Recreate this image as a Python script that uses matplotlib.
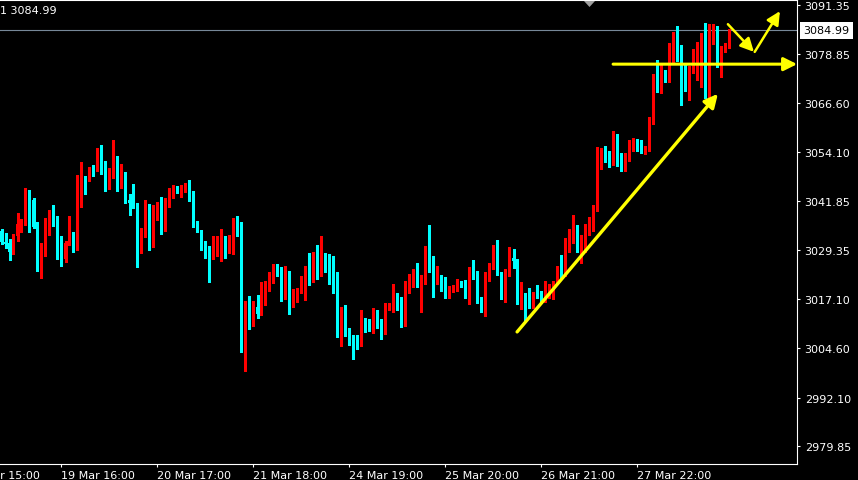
import matplotlib
matplotlib.use("Agg")
import matplotlib.pyplot as plt
from matplotlib.patches import FancyArrowPatch, Polygon
import matplotlib.transforms as mtransforms
import numpy as np

# hourly candles, oldest first
opens = [
    3034.3, 3031.5, 3031.2, 3028.8, 3033.0, 3035.9, 3036.0, 3044.0, 3042.0, 3035.7,
    3024.6, 3030.0, 3034.3, 3038.8, 3036.7, 3032.9, 3027.1, 3031.2, 3032.9, 3029.9,
    3046.3, 3047.7, 3047.1, 3049.9, 3049.8, 3053.0, 3049.2, 3045.0, 3049.5, 3052.2,
    3046.3, 3048.9, 3042.1, 3041.5, 3041.0, 3033.8, 3034.0, 3040.6, 3032.4, 3039.8,
    3040.6, 3037.8, 3041.3, 3042.9, 3044.3, 3044.3, 3045.2, 3046.2, 3042.6, 3035.6,
    3034.2, 3030.2, 3029.7, 3027.7, 3029.5, 3031.7, 3032.7, 3029.2, 3030.5, 3033.9,
    3033.7, 3006.2, 3015.5, 3010.7, 3015.0, 3013.2, 3017.0, 3019.5, 3022.7, 3025.4,
    3024.4, 3017.8, 3020.6, 3015.8, 3016.6, 3018.9, 3021.6, 3024.9, 3021.6, 3028.6,
    3023.1, 3027.9, 3024.4, 3023.9, 3022.3, 3011.5, 3013.7, 3009.7, 3006.9, 3006.4,
    3005.6, 3011.5, 3011.2, 3009.4, 3014.0, 3011.7, 3008.7, 3014.7, 3014.7, 3018.0,
    3017.5, 3010.7, 3020.8, 3022.6, 3023.3, 3020.3, 3021.3, 3028.6, 3024.6, 3021.1,
    3022.8, 3022.3, 3018.1, 3019.0, 3019.0, 3021.1, 3020.6, 3017.5, 3024.6, 3023.9,
    3017.3, 3014.7, 3022.1, 3025.6, 3030.2, 3023.6, 3018.3, 3022.8, 3027.4, 3026.9,
    3016.3, 3017.0, 3015.5, 3015.0, 3018.5, 3018.0, 3016.5, 3018.5, 3018.8, 3021.1,
    3025.1, 3023.1, 3031.2, 3032.9, 3034.0, 3029.2, 3029.7, 3035.2, 3035.7, 3039.5,
    3050.9, 3054.2, 3052.4, 3051.6, 3057.5, 3051.9, 3049.9, 3052.4, 3055.2, 3057.2,
    3056.5, 3054.7, 3054.9, 3061.3, 3073.6, 3071.4, 3074.9, 3073.4, 3077.2, 3084.3,
    3079.5, 3073.1, 3072.9, 3074.2, 3076.4, 3077.4, 3083.8, 3069.9, 3083.5, 3083.8,
    3077.2, 3079.5, 3080.5,
]
highs = [
    3034.7, 3033.7, 3032.2, 3033.5, 3038.8, 3037.2, 3045.0, 3044.6, 3042.6, 3036.6,
    3031.2, 3037.5, 3039.5, 3040.8, 3037.9, 3032.9, 3031.8, 3037.9, 3034.0, 3048.4,
    3051.6, 3048.2, 3050.5, 3050.9, 3055.2, 3056.0, 3051.9, 3050.1, 3057.2, 3053.2,
    3051.1, 3049.1, 3043.6, 3046.1, 3041.2, 3035.0, 3042.0, 3041.0, 3040.8, 3041.5,
    3042.8, 3042.6, 3045.1, 3045.9, 3045.5, 3045.9, 3046.4, 3047.0, 3044.3, 3036.7,
    3034.5, 3031.6, 3030.5, 3033.0, 3033.0, 3034.7, 3032.9, 3033.2, 3037.5, 3038.0,
    3036.5, 3016.5, 3017.8, 3016.5, 3018.0, 3021.3, 3021.6, 3023.9, 3025.9, 3025.9,
    3025.1, 3025.4, 3024.1, 3019.5, 3019.8, 3022.9, 3025.4, 3028.6, 3028.9, 3030.7,
    3032.9, 3028.6, 3028.4, 3027.9, 3023.9, 3015.0, 3015.5, 3009.7, 3007.9, 3007.9,
    3014.2, 3012.2, 3012.0, 3014.7, 3014.2, 3012.0, 3016.0, 3016.0, 3020.8, 3018.5,
    3017.6, 3021.6, 3023.3, 3024.6, 3026.1, 3023.1, 3030.4, 3035.7, 3027.9, 3025.4,
    3023.1, 3022.6, 3020.3, 3020.6, 3022.1, 3021.6, 3021.8, 3025.1, 3026.9, 3024.0,
    3017.4, 3023.9, 3026.1, 3030.7, 3031.9, 3023.9, 3024.6, 3030.2, 3029.7, 3027.1,
    3021.3, 3018.5, 3019.8, 3018.8, 3020.6, 3019.0, 3021.6, 3020.8, 3021.6, 3025.4,
    3028.1, 3032.4, 3034.7, 3038.2, 3035.7, 3033.2, 3036.0, 3037.8, 3040.8, 3055.4,
    3055.2, 3055.7, 3054.4, 3059.5, 3058.7, 3053.9, 3053.9, 3057.2, 3057.7, 3057.4,
    3057.2, 3055.7, 3063.0, 3073.9, 3077.4, 3076.2, 3074.9, 3081.7, 3084.5, 3086.0,
    3081.2, 3076.2, 3075.9, 3080.2, 3082.0, 3084.3, 3086.8, 3086.6, 3086.6, 3086.0,
    3081.0, 3081.7, 3085.2,
]
lows = [
    3030.9, 3029.9, 3027.0, 3028.4, 3031.8, 3033.9, 3035.7, 3034.0, 3035.0, 3024.2,
    3022.4, 3028.0, 3033.2, 3035.4, 3027.1, 3025.4, 3026.4, 3030.7, 3029.0, 3029.5,
    3040.3, 3043.6, 3046.9, 3048.2, 3049.5, 3048.7, 3044.3, 3044.8, 3047.6, 3044.4,
    3045.1, 3041.3, 3038.3, 3040.0, 3025.2, 3028.7, 3032.8, 3029.5, 3030.2, 3037.1,
    3033.5, 3034.3, 3040.3, 3042.5, 3043.8, 3042.9, 3044.0, 3041.9, 3035.1, 3033.9,
    3029.5, 3027.5, 3021.4, 3027.1, 3028.0, 3026.7, 3027.4, 3028.6, 3028.4, 3032.9,
    3003.7, 2998.9, 3009.5, 3010.3, 3012.3, 3013.0, 3015.6, 3019.0, 3021.1, 3022.8,
    3016.5, 3017.0, 3013.2, 3015.1, 3016.3, 3018.6, 3016.8, 3020.6, 3021.2, 3022.1,
    3022.8, 3023.9, 3020.8, 3018.5, 3007.4, 3005.1, 3007.7, 3005.4, 3001.9, 3004.4,
    3005.1, 3008.7, 3008.9, 3008.4, 3009.7, 3006.9, 3008.2, 3014.2, 3013.7, 3014.2,
    3009.9, 3010.2, 3018.5, 3020.0, 3020.0, 3013.7, 3020.8, 3023.9, 3017.5, 3020.8,
    3019.1, 3017.3, 3017.3, 3018.8, 3019.0, 3020.0, 3017.3, 3015.8, 3022.1, 3016.0,
    3013.7, 3012.7, 3021.6, 3024.6, 3023.1, 3017.0, 3016.3, 3022.8, 3024.9, 3015.8,
    3014.5, 3011.7, 3014.7, 3014.7, 3017.3, 3016.0, 3016.3, 3017.3, 3017.0, 3020.8,
    3022.3, 3022.8, 3028.9, 3031.2, 3028.9, 3026.1, 3028.9, 3033.2, 3034.2, 3039.3,
    3049.9, 3051.6, 3050.4, 3050.9, 3050.6, 3049.4, 3049.4, 3051.9, 3054.4, 3054.4,
    3053.9, 3053.7, 3054.4, 3061.3, 3069.4, 3069.1, 3071.9, 3071.9, 3076.4, 3077.2,
    3066.1, 3069.6, 3067.3, 3074.2, 3072.4, 3070.6, 3067.8, 3067.8, 3081.5, 3075.7,
    3073.1, 3079.5, 3080.5,
]
closes = [
    3031.4, 3031.0, 3029.0, 3033.2, 3036.0, 3036.0, 3044.3, 3041.9, 3035.2, 3024.6,
    3030.2, 3034.5, 3038.8, 3036.5, 3032.8, 3027.0, 3031.2, 3032.9, 3030.0, 3046.5,
    3047.6, 3046.9, 3049.9, 3049.4, 3053.0, 3048.9, 3045.1, 3049.6, 3052.0, 3046.4,
    3048.9, 3041.8, 3041.3, 3040.8, 3033.8, 3034.3, 3040.5, 3032.4, 3039.8, 3040.6,
    3037.8, 3041.3, 3043.1, 3044.3, 3044.0, 3045.4, 3046.2, 3042.3, 3035.3, 3034.2,
    3030.2, 3029.5, 3027.7, 3029.7, 3031.7, 3032.7, 3029.2, 3030.7, 3034.2, 3033.2,
    3006.2, 3015.5, 3010.7, 3015.0, 3013.3, 3017.2, 3019.5, 3023.6, 3025.4, 3024.1,
    3018.0, 3020.6, 3015.8, 3016.8, 3019.3, 3021.8, 3024.9, 3021.8, 3028.4, 3023.1,
    3027.6, 3024.1, 3023.6, 3022.1, 3011.7, 3013.7, 3009.2, 3006.7, 3006.1, 3005.6,
    3011.7, 3010.9, 3009.4, 3013.7, 3011.5, 3008.7, 3015.0, 3015.0, 3018.0, 3017.3,
    3010.7, 3021.1, 3022.8, 3023.3, 3020.3, 3021.6, 3028.6, 3024.4, 3021.1, 3022.8,
    3022.1, 3018.1, 3019.3, 3019.8, 3021.1, 3020.6, 3017.5, 3024.6, 3023.6, 3017.0,
    3014.7, 3022.3, 3025.9, 3030.2, 3023.3, 3018.0, 3023.1, 3027.4, 3026.6, 3016.3,
    3017.0, 3015.2, 3015.0, 3018.5, 3017.8, 3016.5, 3018.8, 3019.0, 3021.3, 3025.1,
    3023.1, 3031.4, 3033.5, 3034.0, 3029.2, 3029.9, 3035.5, 3036.0, 3039.8, 3051.1,
    3054.2, 3052.4, 3051.6, 3057.2, 3051.6, 3049.9, 3052.7, 3055.4, 3057.2, 3056.2,
    3054.4, 3055.4, 3061.5, 3073.6, 3071.4, 3074.9, 3073.4, 3077.4, 3084.5, 3079.0,
    3072.9, 3072.9, 3074.7, 3076.4, 3077.7, 3083.8, 3069.9, 3083.8, 3083.8, 3077.2,
    3079.7, 3080.7, 3084.99,
]

last_price = 3084.99
price_ticks = [3091.35, 3078.85, 3066.60, 3054.10, 3041.85, 3029.35,
               3017.10, 3004.60, 2992.10, 2979.85]
time_tick_bars = [15, 39, 63, 87, 111, 135, 159]
time_tick_labels = ["19 Mar 16:00", "20 Mar 17:00", "21 Mar 18:00", "24 Mar 19:00",
                    "25 Mar 20:00", "26 Mar 21:00", "27 Mar 22:00"]
clipped_tick_bar = -9
clipped_tick_label = "18 Mar 15:00"

# hand drawn yellow arrows: (bar, price) start -> end
trend_arrow = [(128.9, 3008.7), (179.1, 3068.9)]
level_arrow = [(152.9, 3076.4), (198.9, 3076.4)]
down_arrow = [(181.6, 3086.5), (188.1, 3079.5)]
up_arrow = [(188.3, 3079.5), (194.6, 3089.8)]

UP = "#ff0000"
DOWN = "#00ffff"

fig = plt.figure(figsize=(8.58, 4.81), dpi=100, facecolor="black")
ax = fig.add_axes([0, 1 - 465 / 481, 797 / 858, 464 / 481])
ax.set_facecolor("black")

o = np.array(opens)
h = np.array(highs)
l = np.array(lows)
c = np.array(closes)
idx = np.arange(len(o))
cols = np.where(c >= o, UP, DOWN)

ax.axhline(last_price, color="#778899", lw=0.8, zorder=1)
ax.vlines(idx, l, h, colors=cols, linewidth=0.8, antialiased=False, zorder=2)
body = np.maximum(np.abs(c - o), 0.25)
ax.bar(idx, body, bottom=np.minimum(o, c), width=0.75, color=cols,
       linewidth=0, antialiased=False, zorder=3)

ax.set_xlim(-0.375, 198.875)
ax.set_ylim(2975.30, 3092.62)

for spine in ("top", "right", "bottom"):
    ax.spines[spine].set_color("white")
    ax.spines[spine].set_linewidth(0.8)
ax.spines["left"].set_visible(False)

ax.yaxis.tick_right()
ax.set_yticks(price_ticks)
ax.set_yticklabels([f"{v:.2f}" for v in price_ticks])
ax.tick_params(axis="y", colors="white", labelsize=8, length=2.5, width=0.8, pad=3)

ax.set_xticks(time_tick_bars)
ax.set_xticklabels(time_tick_labels, ha="left")
ax.tick_params(axis="x", colors="white", labelsize=8, length=2.5, width=0.8, pad=1.5)
ax.text(clipped_tick_bar, -0.012, clipped_tick_label, color="white", fontsize=8,
        ha="left", va="top", transform=mtransforms.blended_transform_factory(ax.transData, ax.transAxes),
        clip_on=False)

# current price label on the scale
ax.annotate(f"{last_price:.2f}", xy=(1, last_price), xycoords=("axes fraction", "data"),
            xytext=(4.5, 0), textcoords="offset points", ha="left", va="center",
            fontsize=8, color="black",
            bbox=dict(boxstyle="square,pad=0.3", facecolor="white", edgecolor="none"))

# top-left info text
fig.text(0, 1 - 11 / 481, "1 3084.99", color="white", fontsize=8, ha="left", va="center")

# chart shift marker
fig.patches.append(Polygon([(584 / 858, 1 - 2 / 481), (595 / 858, 1 - 2 / 481),
                            (589.5 / 858, 1 - 8 / 481)], closed=True,
                           transform=fig.transFigure, facecolor="#a0a0a0",
                           edgecolor="none"))

for (p0, p1), lw in ((trend_arrow, 2.4), (level_arrow, 2.2), (down_arrow, 1.8), (up_arrow, 1.8)):
    arr = FancyArrowPatch(p0, p1, arrowstyle="-|>,head_length=0.8,head_width=0.4",
                          mutation_scale=10, color="#ffff00", lw=lw,
                          shrinkA=0, shrinkB=0, clip_on=False, zorder=5)
    ax.add_patch(arr)

fig.savefig("out.png", dpi=100, facecolor="black")
